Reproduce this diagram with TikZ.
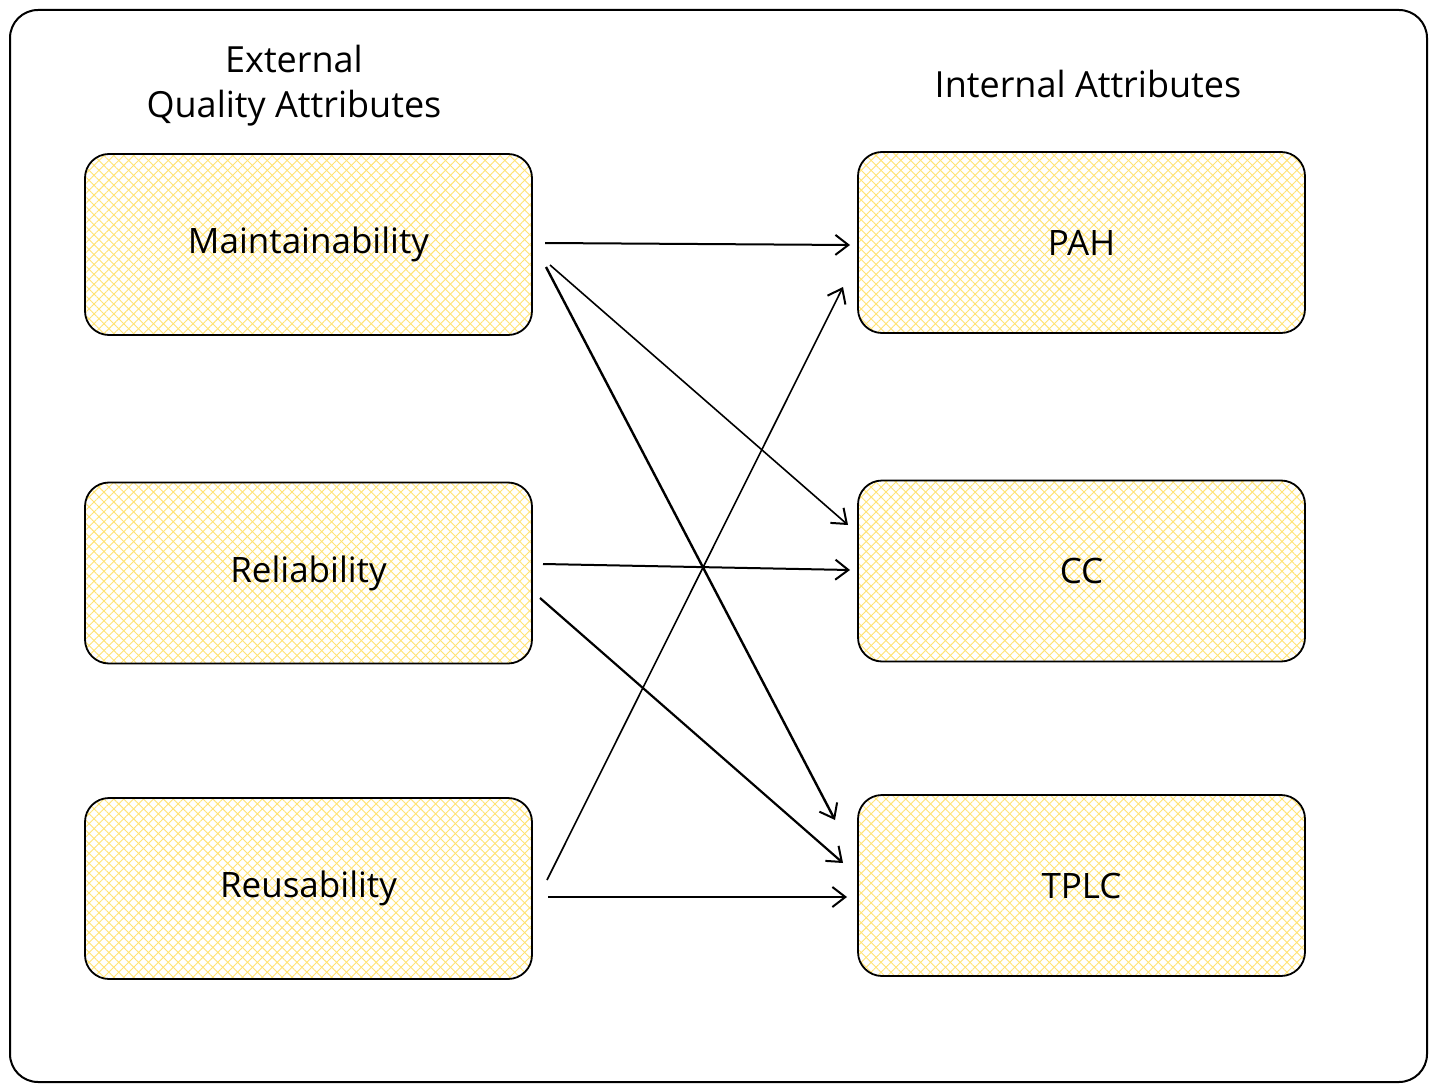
\documentclass[tikz,border=0pt]{standalone}
\usepackage{fontspec}
\setmainfont{Open Sans}
\usetikzlibrary{arrows.meta,patterns.meta}
\definecolor{hatch}{HTML}{FFE373}
\tikzset{
  qbox/.style={rounded corners=24pt, line width=1.8pt, draw=black,
    minimum width=447pt, minimum height=181pt, inner sep=0pt,
    preaction={fill=white},
    preaction={pattern={Lines[angle=45,distance=7pt,line width=0.9pt]}, pattern color=hatch},
    preaction={pattern={Lines[angle=-45,distance=7pt,line width=0.9pt]}, pattern color=hatch},
    font=\fontsize{35}{40}\selectfont},
  title/.style={font=\fontsize{36}{45}\selectfont, align=center},
  conn/.style={line width=2pt, -{Straight Barb[length=13pt,width=20pt,line width=2pt]}}
}
\begin{document}
\begin{tikzpicture}[x=1pt,y=-1pt]
\useasboundingbox (0,0) rectangle (1437,1091);
\draw[line width=2pt, rounded corners=28pt] (10,10) rectangle (1427,1082);
\node[title] (ext) at (294,86) {External\\Quality Attributes};
\node[title] (int) at (1088,84) {Internal Attributes};
\node[qbox] (m) at (308.5,244.5) {Maintainability};
\node[qbox] (r) at (308.5,573) {Reliability};
\node[qbox] (u) at (308.5,888.5) {Reusability};
\node[qbox] (p) at (1081.5,242.5) {PAH};
\node[qbox] (c) at (1081.5,571) {CC};
\node[qbox] (t) at (1081.5,885.5) {TPLC};
% connector end points
\coordinate (m1) at (545,243); \coordinate (p1) at (850,245);
\coordinate (m2) at (550,265); \coordinate (c1) at (848,525);
\coordinate (m3) at (546,267); \coordinate (t1) at (835,820);
\coordinate (r1) at (543,564); \coordinate (c2) at (850,570);
\coordinate (r2) at (540,598); \coordinate (t2) at (843,863);
\coordinate (u1) at (547,880); \coordinate (p2) at (843,287);
\coordinate (u2) at (548,897); \coordinate (t3) at (847,897);
\draw[conn] (m1) -- (p1);
\draw[conn, line width=1.6pt] (m2) -- (c1);
\draw[conn, line width=2.4pt] (m3) -- (t1);
\draw[conn] (r1) -- (c2);
\draw[conn, line width=2.2pt] (r2) -- (t2);
\draw[conn, line width=1.6pt] (u1) -- (p2);
\draw[conn, line width=1.6pt] (u2) -- (t3);
\end{tikzpicture}
\end{document}
